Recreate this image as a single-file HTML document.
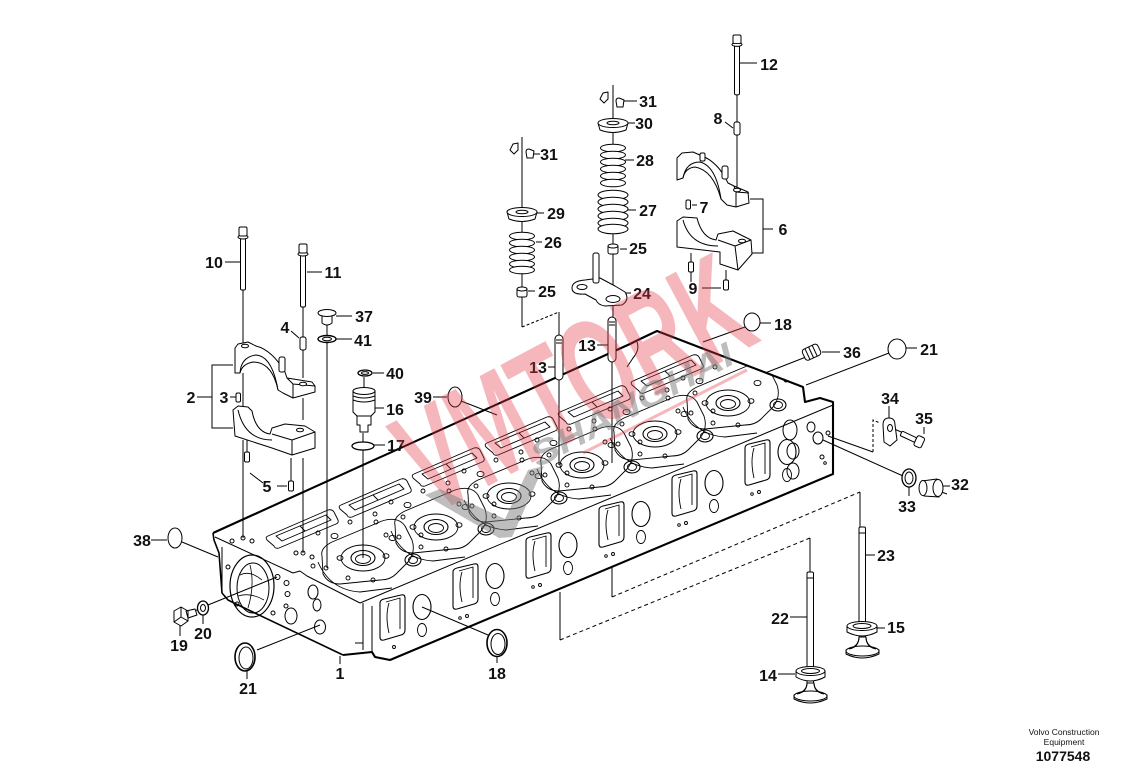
<!DOCTYPE html>
<html><head><meta charset="utf-8">
<style>
html,body{margin:0;padding:0;background:#fff}
svg{display:block}
text{font-family:"Liberation Sans",Arial,sans-serif;font-weight:bold;font-size:16px;fill:#111}
</style></head><body>
<svg width="1145" height="771" viewBox="0 0 1145 771" xmlns="http://www.w3.org/2000/svg">
<defs>
<clipPath id="hc"><polygon points="213,531 633,341 657,330 803,386 805,401 833,401 834,475 390,661 343,656 236,605 222,593"/></clipPath>
<g id="cyl" fill="none" stroke="#000" stroke-width="0.9" stroke-linejoin="round">
<path d="M268,536 L328,510 Q332,509 334,512 L338,520 Q339,523 336,524 L279,548 Q275,549 274,546 L267,540 Q265,537 268,536 Z M276,536 L326,515 L331,520 L282,541 Z M300,526 L305,531"/>
<path d="M322,556 Q320,548 332,542 L382,521 Q398,516 405,526 L412,540 Q416,552 408,562 L396,574 Q390,580 380,580 L340,584 Q328,584 323,574 Z M318,562 Q330,590 360,592 L392,588"/>
<ellipse cx="363" cy="558" rx="22" ry="13"/><ellipse cx="363" cy="558" rx="12" ry="7.5" stroke-width="1.1"/><ellipse cx="363" cy="559" rx="7.5" ry="4.5"/>
<ellipse cx="413" cy="560" rx="8" ry="6" stroke-width="1.1"/><ellipse cx="413" cy="560" rx="4.5" ry="3.5"/>
<path d="M328,568a2,2 0 1,0 -4,0a2,2 0 1,0 4,0 M305,553a2,2 0 1,0 -4,0a2,2 0 1,0 4,0 M343,558a3,2.3 0 1,0 -6,0a3,2.3 0 1,0 6,0 M389,556a3,2.3 0 1,0 -6,0a3,2.3 0 1,0 6,0 M315,566a2,2 0 1,0 -4,0a2,2 0 1,0 4,0 M350,578a2,2 0 1,0 -4,0a2,2 0 1,0 4,0 M375,580a2,2 0 1,0 -4,0a2,2 0 1,0 4,0 M320,533a2,2 0 1,0 -4,0a2,2 0 1,0 4,0 M352,522a2,2 0 1,0 -4,0a2,2 0 1,0 4,0 M377,514a2,2 0 1,0 -4,0a2,2 0 1,0 4,0 M405,517a2,2 0 1,0 -4,0a2,2 0 1,0 4,0 M423,535a2,2 0 1,0 -4,0a2,2 0 1,0 4,0 M338,536a3.5,2.6 0 1,0 -7,0a3.5,2.6 0 1,0 7,0 M396,538a3.5,2.6 0 1,0 -7,0a3.5,2.6 0 1,0 7,0"/>
<path d="M384,599 L401,595 Q405,594 405,598 L405,630 Q405,634 401,635 L384,640 Q380,641 380,637 L380,603 Q380,600 384,599 Z" stroke-width="1.1"/>
<path d="M389,603 Q385,616 389,633 M386,602 L400,598 L400,629"/>
<ellipse cx="422" cy="607" rx="9" ry="12.5" stroke-width="1.1"/><ellipse cx="422" cy="630" rx="4.5" ry="6.5"/>
<circle cx="394" cy="647" r="1.5"/><circle cx="460" cy="618" r="1.3"/>
</g>
<g id="coilS"><ellipse cx="0" cy="0" rx="12.5" ry="3.8"/></g>
<g id="coilL"><ellipse cx="0" cy="0" rx="15" ry="4.8"/></g>
<g id="pin"><rect x="-2.5" y="0" width="5" height="10" rx="1.5"/></g>
<g id="bolt"><rect x="-2.5" y="10" width="5" height="53" rx="1.5"/><ellipse cx="0" cy="10" rx="5" ry="2"/><rect x="-4" y="0" width="8" height="9" rx="1.5"/></g>
<g id="clip2"><path d="M0,1 L5,0 L5,7 L1,11 L-3,7 Z"/><path d="M13,9 Q13,6 16,6 L21,8 L20,15 L14,15 Z"/></g>
<g id="wash"><path d="M-15,0 L-13,7 Q0,12 13,7 L15,0 Z"/><ellipse cx="0" cy="0" rx="15" ry="4.5"/><ellipse cx="0" cy="0" rx="6" ry="1.8"/></g>
<g id="cup"><rect x="-5" y="0" width="10" height="9" rx="2"/><ellipse cx="0" cy="1" rx="5" ry="2"/></g>
</defs>

<polygon points="213,533 633,342 657,331 803,387 805,402 833,402 833,474 390,660 343,655 236,604 222,593" fill="#fff"/>
<g clip-path="url(#hc)">
<use href="#cyl"/><use href="#cyl" transform="translate(73,-31)"/><use href="#cyl" transform="translate(146,-62)"/>
<use href="#cyl" transform="translate(219,-93)"/><use href="#cyl" transform="translate(292,-124)"/><use href="#cyl" transform="translate(365,-155)"/>
</g>
<g fill="none" stroke="#000" stroke-linejoin="round">
<path d="M213,533 L630,344 L636,341 L640,339 L657,331 L803,387 L805,402 L820,398 L833,402 L833,474 L390,660 L375,657 L372,652 L343,655" stroke-width="2.1"/>
<path d="M637,342 Q640,350 633,358 L627,367 M360,603 L833,405 M363,603 L363,650 M372,606 L372,652 M355,643 L363,643 M222,547 L222,590 M215,537 L293,573 L300,571 L307,576 L360,603" stroke-width="1"/>
<path d="M343,655 L236,604 L228,600 L222,593 L219,553 L214,540 L213,533" stroke-width="1.6"/>
<ellipse cx="252" cy="586" rx="22" ry="31" stroke-width="1.2"/><ellipse cx="253" cy="588" rx="16" ry="25"/>
<path d="M240,575 Q250,570 262,580 M238,596 Q250,592 264,600 M250,565 Q255,585 248,608" stroke-width="0.8"/>
<ellipse cx="291" cy="616" rx="6" ry="8"/><ellipse cx="313" cy="592" rx="5" ry="7"/><ellipse cx="317" cy="605" rx="4" ry="6"/><ellipse cx="320" cy="627" rx="5.5" ry="7"/>
<ellipse cx="790" cy="430" rx="7" ry="10"/><ellipse cx="811" cy="427" rx="4" ry="5"/><ellipse cx="818" cy="438" rx="5" ry="6"/><ellipse cx="793" cy="451" rx="6" ry="8"/><ellipse cx="793" cy="471" rx="6" ry="8"/>
<path d="M230,567a2,2 0 1,0 -4,0a2,2 0 1,0 4,0 M280,577a2.5,2.5 0 1,0 -5,0a2.5,2.5 0 1,0 5,0 M289,583a2.5,2.5 0 1,0 -5,0a2.5,2.5 0 1,0 5,0 M290,594a2.5,2.5 0 1,0 -5,0a2.5,2.5 0 1,0 5,0 M288,606a2,2 0 1,0 -4,0a2,2 0 1,0 4,0 M275,613a2,2 0 1,0 -4,0a2,2 0 1,0 4,0 M239,604a2,2 0 1,0 -4,0a2,2 0 1,0 4,0 M245,538a2,2 0 1,0 -4,0a2,2 0 1,0 4,0 M254,541a2,2 0 1,0 -4,0a2,2 0 1,0 4,0 M234,541a2,2 0 1,0 -4,0a2,2 0 1,0 4,0 M298,553a2,2 0 1,0 -4,0a2,2 0 1,0 4,0 M314,557a2,2 0 1,0 -4,0a2,2 0 1,0 4,0 M824,457a2,2 0 1,0 -4,0a2,2 0 1,0 4,0 M830,433a2,2 0 1,0 -4,0a2,2 0 1,0 4,0"/>
</g>

<g fill="none" stroke="#000" stroke-width="1">
<path d="M740,63 H757 M725,122 L733,128 M624,101 H637 M628,123 H635 M625,160 H634 M628,210 H636 M620,249 H627 M622,293 H631 M534,154 H540 M537,213 H544 M536,242 H542 M528,291 H535 M692,205 H697 M702,288 H721 M760,323 H771 M225,262 H240 M307,272 H322 M336,316 H352 M336,339 H352 M291,331 L299,338 M373,373 H384 M375,408 H384 M374,445 H385 M197,397 H212 M230,397 H236 M277,486 H287 M250,473 L263,483 M151,540 H167 M180,625 V636 M203,615 V624 M247,671 V679 M340,656 V664 M497,657 V663 M433,397 H447 M548,367 H555 M597,345 H608 M822,352 H840 M906,348 H917 M889,406 V418 M924,427 V434 M942,486 H950 M909,487 V496 M865,555 H875 M790,617 H807 M877,628 H885 M778,674 H795"/>
<path d="M233,365 H212 V428 H233 M750,199 H763 V253 H750 M763,229 H773"/>
<path d="M243,290 V343 M243,373 V407 M243,440 V538 M303,307 V337 M303,350 V378 M303,398 V420 M303,458 V553 M327,325 V335 M327,343 V568 M364,377 V387 M363,433 V442 M363,450 V558 M737,95 V122 M737,135 V190 M691,253 V262 M691,272 V282 M726,270 V280 M247,437 V452 M291,458 V481"/>
<path d="M522,137 V207 M522,221 V232 M522,272 V287 M522,297 V327 M559,312 V335 M559,380 V465 M613,85 V119 M613,133 V145 M613,230 V244 M613,254 V290 M613,304 V317 M612,362 V463"/>
<path d="M182,542 L218,557 M208,605 L277,577 M186,614 L197,610 M257,650 L320,625 M488,635 L422,607 M461,401 L497,415 M745,327 L703,342 M806,357 L765,373 M889,353 L806,385 M823,440 L903,476 M927,487 L947,494 M828,436 L873,452 M892,428 L915,438 M612,566 V597 M860,492 V527 M560,592 V640 M810,538 V572"/>
<path d="M522,327 L559,312 M873,452 V420 L880,423" stroke-dasharray="3,2"/>
<path d="M612,597 L860,492 M560,640 L810,538" stroke-dasharray="4,3"/>
</g>

<g fill="#fff" stroke="#000" stroke-width="1" stroke-linejoin="round">
<use href="#bolt" transform="translate(243,227)"/><use href="#bolt" transform="translate(303,244)"/><use href="#bolt" transform="translate(737,35) scale(1,0.95)"/>
<rect x="300" y="337" width="6" height="13" rx="2"/><rect x="734" y="122" width="6" height="13" rx="2"/>
<rect x="236" y="393" width="4.5" height="9" rx="1.5"/><rect x="686" y="200" width="4.5" height="9" rx="1.5"/>
<use href="#pin" transform="translate(691,262)"/><use href="#pin" transform="translate(726,280)"/><use href="#pin" transform="translate(247,452)"/><use href="#pin" transform="translate(291,481)"/>
<path d="M235,348 L238,344 L248,342 L256,346 Q272,350 285,372 L287,378 L312,382 L315,386 L315,392 L293,398 L283,393 L278,390 Q272,362 253,362 Q242,364 240,373 L235,373 Z"/>
<path d="M240,373 Q241,357 256,355 Q272,356 278,390 M287,378 L293,384 L293,398 M293,384 L315,386" fill="none"/>
<rect x="279" y="357" width="6" height="15" rx="2"/><ellipse cx="245" cy="346" rx="3.5" ry="1.8"/><ellipse cx="303" cy="384" rx="3.5" ry="1.8"/>
<path d="M233,410 L238,406 L248,407 L252,411 Q256,432 270,434 L272,428 L285,424 L305,426 L315,432 L315,448 L292,455 L272,448 L235,436 Z"/>
<path d="M238,410 Q245,440 272,440 M272,434 L292,440 L315,432 M292,440 L292,455" fill="none"/>
<ellipse cx="300" cy="430" rx="3.5" ry="1.8"/>
<path d="M677,158 L682,153 L693,152 L702,156 Q718,162 728,183 L734,186 L748,192 L749,203 L736,207 L727,205 L721,199 Q713,170 695,167 Q685,168 683,178 L677,180 Z"/>
<path d="M683,178 Q686,162 700,162 Q716,166 721,199 M734,186 L736,192 L736,207 M736,192 L749,193" fill="none"/>
<rect x="722" y="166" width="6" height="13" rx="2"/><rect x="700" y="153" width="5" height="8" rx="1.5"/><ellipse cx="737" cy="190" rx="3.5" ry="1.8"/>
<path d="M677,221 L683,217 L697,218 Q702,238 716,240 L718,234 L733,231 L751,240 L752,254 L738,270 L720,264 L720,252 L677,247 Z"/>
<path d="M683,220 Q690,246 718,246 M718,240 L735,246 L751,240 M735,246 L738,270" fill="none"/>
<ellipse cx="742" cy="241" rx="3.5" ry="1.8"/>
<use href="#clip2" transform="translate(513,143)"/><use href="#clip2" transform="translate(603,92)"/>
<use href="#wash" transform="translate(522,212)"/><use href="#wash" transform="translate(613,123)"/>
<use href="#coilS" transform="translate(522,236)"/><use href="#coilS" transform="translate(522,243)"/><use href="#coilS" transform="translate(522,250)"/><use href="#coilS" transform="translate(522,257)"/><use href="#coilS" transform="translate(522,264)"/><use href="#coilS" transform="translate(522,270)"/>
<use href="#coilS" transform="translate(613,148)"/><use href="#coilS" transform="translate(613,155)"/><use href="#coilS" transform="translate(613,162)"/><use href="#coilS" transform="translate(613,169)"/><use href="#coilS" transform="translate(613,176)"/><use href="#coilS" transform="translate(613,183)"/>
<use href="#coilL" transform="translate(613,195)"/><use href="#coilL" transform="translate(613,202)"/><use href="#coilL" transform="translate(613,209)"/><use href="#coilL" transform="translate(613,216)"/><use href="#coilL" transform="translate(613,223)"/><use href="#coilL" transform="translate(613,229)"/>
<use href="#cup" transform="translate(522,288)"/><use href="#cup" transform="translate(613,245)"/>
<path d="M572,288 Q572,281 585,280 L600,278 L615,286 L625,292 Q630,300 622,305 L605,306 Q598,305 596,300 L585,294 Q572,295 572,288 Z"/>
<rect x="593" y="253" width="6" height="30" rx="2"/><ellipse cx="613" cy="299" rx="7" ry="3.5"/><ellipse cx="582" cy="287" rx="5" ry="2.5"/>
<rect x="555" y="335" width="8" height="45" rx="4"/><rect x="608" y="317" width="8" height="45" rx="4"/>
<path d="M556,340 H562 M556,343 H562 M609,322 H615 M609,325 H615" fill="none"/>
<path d="M322,314 L322,323 Q327,327 332,323 L332,314 Z"/><ellipse cx="327" cy="313" rx="9" ry="3.5"/>
<ellipse cx="327" cy="339" rx="9" ry="3.5" stroke-width="1.4"/><ellipse cx="327" cy="339" rx="4.5" ry="1.8"/>
<ellipse cx="365" cy="373" rx="7" ry="3" stroke-width="1.3"/><ellipse cx="365" cy="373" rx="3.5" ry="1.4"/>
<path d="M353,391 L353,412 L357,416 L357,425 L360,425 L360,432 L368,432 L368,425 L371,425 L371,416 L375,412 L375,391 Z"/>
<ellipse cx="364" cy="391" rx="11" ry="3.5"/>
<path d="M353,396 Q364,400 375,396 M353,400 Q364,404 375,400 M357,416 H371" fill="none"/>
<ellipse cx="363" cy="446" rx="11" ry="4" fill="none" stroke-width="1.3"/>
<ellipse cx="175" cy="538" rx="7" ry="10"/><ellipse cx="455" cy="397" rx="7" ry="10"/><ellipse cx="752" cy="322" rx="8" ry="9"/><ellipse cx="897" cy="349" rx="9" ry="10"/>
<ellipse cx="245" cy="657" rx="10" ry="14" stroke-width="1.6"/><ellipse cx="246" cy="658" rx="7" ry="11"/>
<ellipse cx="497" cy="643" rx="10" ry="13.5" stroke-width="1.6"/><ellipse cx="498" cy="644" rx="7" ry="10.5"/>
<path d="M186,611 L195,609 L197,615 L188,618 Z M174,611 L181,607 L188,611 L188,621 L181,626 L174,622 Z"/>
<path d="M181,607 L181,617 L174,622 M181,617 L188,621" fill="none"/>
<ellipse cx="203" cy="608" rx="5.5" ry="7" stroke-width="1.3"/><ellipse cx="203" cy="608" rx="2.5" ry="3.5"/>
<g transform="rotate(-25 812 352)"><rect x="803" y="346" width="17" height="12" rx="3"/><path d="M807,346 V358 M811,346 V358 M815,346 V358" fill="none"/></g>
<path d="M883,425 Q883,418 889,418 Q895,418 895,425 L897,440 L890,446 L884,442 Z"/><ellipse cx="890" cy="428" rx="2.5" ry="3.5"/>
<g transform="rotate(25 910 438)"><rect x="900" y="435" width="16" height="5" rx="1"/><rect x="916" y="432" width="8" height="11" rx="2"/></g>
<ellipse cx="909" cy="478" rx="7" ry="9" stroke-width="1.3"/><ellipse cx="909" cy="478" rx="4" ry="6"/>
<path d="M922,481 L937,479 L939,497 L924,496 Z"/><ellipse cx="938" cy="488" rx="5" ry="8.5"/><ellipse cx="923" cy="488" rx="4" ry="7.5"/>
<rect x="807" y="572" width="6.5" height="112" rx="1.5"/>
<path d="M796,671 L796,677 Q810,685 825,677 L825,671 Z"/><ellipse cx="810.5" cy="671" rx="14.5" ry="4.5"/><ellipse cx="810.5" cy="671" rx="9" ry="2.5"/>
<path d="M807,683 Q807,692 794,695 L794,699 Q810,707 827,699 L827,695 Q814,692 814,683 Z"/><ellipse cx="810.5" cy="696" rx="16.5" ry="5"/>
<rect x="859" y="527" width="6.5" height="110" rx="1.5"/>
<path d="M847,626 L847,632 Q862,640 877,632 L877,626 Z"/><ellipse cx="862" cy="626" rx="15" ry="4.5"/><ellipse cx="862" cy="626" rx="9" ry="2.5"/>
<path d="M859,637 Q859,647 846,650 L846,654 Q862,662 879,654 L879,650 Q866,647 866,637 Z"/><ellipse cx="862.5" cy="651" rx="16.5" ry="5"/>
<path d="M807,578 H813.5 M859,533 H865.5 M807,683 Q807,692 797,694 M814,683 Q814,692 824,694 M859,637 Q859,647 849,649 M866,637 Q866,647 876,649" fill="none"/>
</g>

<g text-anchor="middle">
<text x="769" y="70">12</text><text x="718" y="124">8</text><text x="648" y="107">31</text><text x="644" y="129">30</text>
<text x="645" y="166">28</text><text x="648" y="216">27</text><text x="638" y="254">25</text><text x="642" y="299">24</text>
<text x="549" y="160">31</text><text x="556" y="219">29</text><text x="553" y="248">26</text><text x="547" y="297">25</text>
<text x="704" y="213">7</text><text x="783" y="235">6</text><text x="693" y="294">9</text><text x="783" y="330">18</text>
<text x="214" y="268">10</text><text x="333" y="278">11</text><text x="364" y="322">37</text><text x="363" y="346">41</text>
<text x="285" y="333">4</text><text x="395" y="379">40</text><text x="395" y="415">16</text><text x="396" y="451">17</text>
<text x="191" y="403">2</text><text x="224" y="403">3</text><text x="267" y="492">5</text><text x="142" y="546">38</text>
<text x="179" y="651">19</text><text x="203" y="639">20</text><text x="248" y="694">21</text><text x="340" y="679">1</text>
<text x="497" y="679">18</text><text x="423" y="403">39</text><text x="538" y="373">13</text><text x="587" y="351">13</text>
<text x="852" y="358">36</text><text x="929" y="355">21</text><text x="890" y="404">34</text><text x="924" y="424">35</text>
<text x="960" y="490">32</text><text x="907" y="512">33</text><text x="886" y="561">23</text><text x="780" y="624">22</text>
<text x="896" y="633">15</text><text x="768" y="681">14</text>
<text x="1064" y="735" style="font-size:8.5px;font-weight:normal">Volvo Construction</text>
<text x="1064" y="745" style="font-size:8.5px;font-weight:normal">Equipment</text>
<text x="1063" y="761" style="font-size:14px">1077548</text>
</g>

<g opacity="0.36"><g transform="translate(432,516) rotate(-28) scale(0.62,1.05)"><text x="0" y="0" style="font-size:140px;fill:#e63946">VMTORK</text></g></g>
<line x1="583" y1="453" x2="747" y2="370" stroke="#e63946" stroke-width="3" opacity="0.36"/>
<polygon points="425,495 440,489 505,519 528,470 544,466 512,537 499,538" fill="#7d7d7d" opacity="0.5"/>
<g transform="translate(538,468) rotate(-28)" opacity="0.5"><text x="0" y="0" textLength="225" lengthAdjust="spacingAndGlyphs" style="font-size:34px;font-style:italic;fill:#7d7d7d">SHANGHAI</text></g>
</svg>
</body></html>
